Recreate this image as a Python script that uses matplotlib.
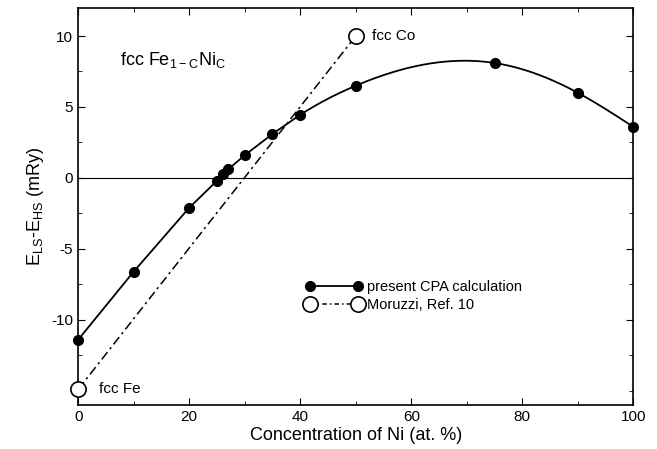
import numpy as np
import matplotlib
matplotlib.use("Agg")
import matplotlib.pyplot as plt
from matplotlib.ticker import MultipleLocator

plt.rcParams['font.family'] = ['Liberation Sans', 'DejaVu Sans']
plt.rcParams['axes.unicode_minus'] = False
plt.rcParams['mathtext.default'] = 'regular'

# present CPA calculation
cpa_ni = [0, 10, 20, 25, 26, 27, 30, 35, 40, 50, 75, 90, 100]
cpa_de = [-11.4, -6.6, -2.1, -0.2, 0.3, 0.6, 1.6, 3.1, 4.45, 6.5, 8.1, 6.0, 3.6]

# Moruzzi, Ref. 10
mor_ni = [0, 50]
mor_de = [-14.9, 10.0]


def natural_spline(x, y, xs):
    # natural cubic spline through the points, only used to draw the curve
    x = np.asarray(x, float)
    y = np.asarray(y, float)
    n = len(x)
    h = np.diff(x)
    A = np.zeros((n, n))
    b = np.zeros(n)
    A[0, 0] = A[-1, -1] = 1
    for i in range(1, n - 1):
        A[i, i - 1] = h[i - 1]
        A[i, i] = 2 * (h[i - 1] + h[i])
        A[i, i + 1] = h[i]
        b[i] = 3 * ((y[i + 1] - y[i]) / h[i] - (y[i] - y[i - 1]) / h[i - 1])
    c = np.linalg.solve(A, b)
    idx = np.clip(np.searchsorted(x, xs) - 1, 0, n - 2)
    dx = xs - x[idx]
    bb = (y[idx + 1] - y[idx]) / h[idx] - h[idx] * (2 * c[idx] + c[idx + 1]) / 3
    d = (c[idx + 1] - c[idx]) / (3 * h[idx])
    return y[idx] + bb * dx + c[idx] * dx ** 2 + d * dx ** 3


def main():
    fig = plt.figure(figsize=(6.57, 4.49), dpi=100)
    ax = fig.add_axes([0.119, 0.098, 0.845, 0.885])

    # straight segments up to 40 %, smooth curve beyond
    k = cpa_ni.index(40)
    ax.plot(cpa_ni[:k + 1], cpa_de[:k + 1], color='black', lw=1.3, zorder=2)
    xs = np.linspace(40, 100, 300)
    ax.plot(xs, natural_spline(cpa_ni[k - 1:], cpa_de[k - 1:], xs),
            color='black', lw=1.3, zorder=2)
    ax.plot(cpa_ni, cpa_de, 'o', color='black', ms=7, zorder=3, clip_on=False)

    ax.plot(mor_ni, mor_de, color='black', lw=1.1, ls=(0, (6, 2.5, 1.5, 2.5)),
            marker='o', ms=11, mfc='white', mec='black', mew=1.2, zorder=3,
            clip_on=False)

    ax.axhline(0, color='black', lw=0.8, zorder=1)

    # legend handles
    h1, = ax.plot([], [], '-o', color='black', ms=7, lw=1.3)
    h2, = ax.plot([], [], color='black', lw=1.1, ls=(0, (3, 2, 1, 2)),
                  marker='o', ms=11, mfc='white', mec='black', mew=1.2)
    ax.legend([h1, h2], ['present CPA calculation', 'Moruzzi, Ref. 10'],
              numpoints=2, frameon=False, fontsize=10.5, handlelength=3.9,
              handletextpad=0.3, labelspacing=0.25,
              loc='upper left', bbox_to_anchor=(0.386, 0.347))

    ax.text(7.6, 8.3, r'fcc Fe$_{1-C}$Ni$_{C}$', fontsize=13, va='center')
    ax.text(53.0, 10.0, 'fcc Co', fontsize=11, va='center')
    ax.text(3.8, -14.9, 'fcc Fe', fontsize=11, va='center')

    ax.set_xlim(0, 100)
    ax.set_ylim(-16, 12)
    ax.xaxis.set_major_locator(MultipleLocator(20))
    ax.xaxis.set_minor_locator(MultipleLocator(10))
    ax.yaxis.set_major_locator(MultipleLocator(5))
    ax.yaxis.set_minor_locator(MultipleLocator(2.5))
    ax.set_yticks([-10, -5, 0, 5, 10])
    ax.tick_params(which='both', direction='in', top=True, right=True,
                   labelsize=11)
    ax.tick_params(which='major', length=5)
    ax.tick_params(which='minor', length=3)
    for s in ax.spines.values():
        s.set_linewidth(1.2)

    ax.set_xlabel('Concentration of Ni (at. %)', fontsize=13, labelpad=2)
    ax.set_ylabel(r'E$_{LS}$-E$_{HS}$ (mRy)', fontsize=13, labelpad=4)

    fig.savefig('out.png', dpi=100)


if __name__ == "__main__":
    main()
